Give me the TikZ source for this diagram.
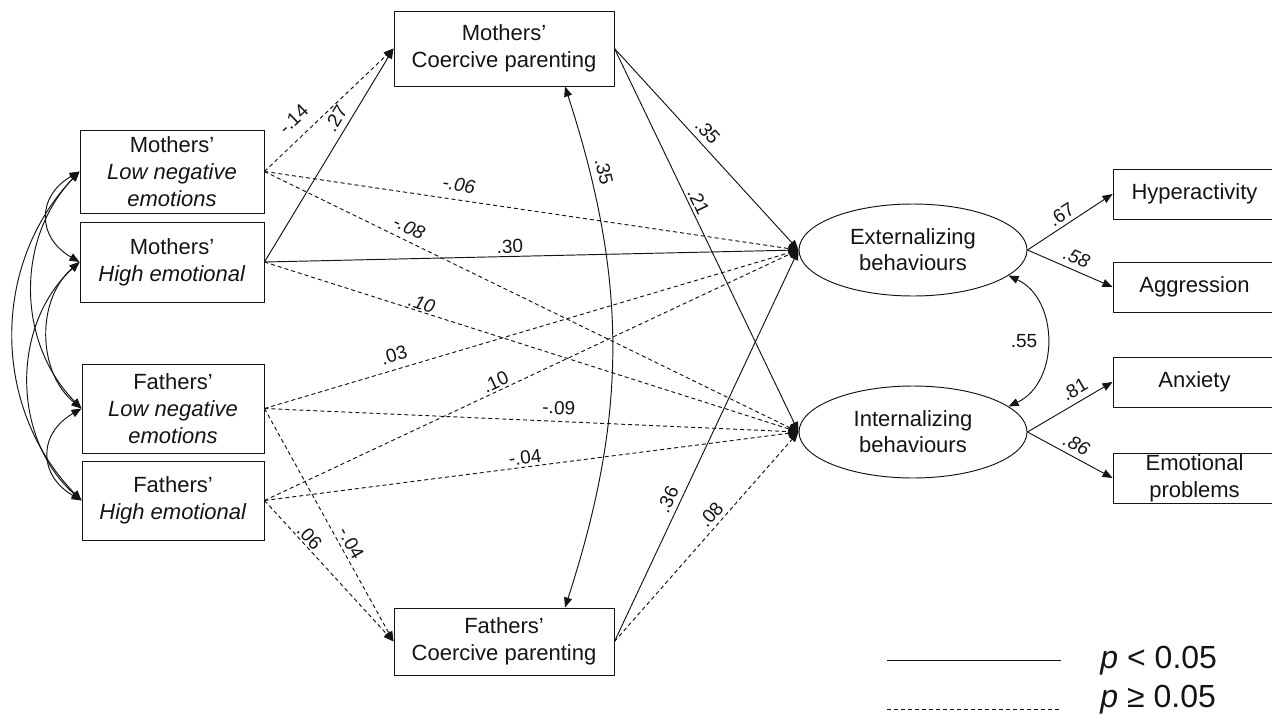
\documentclass[tikz,border=0pt]{standalone}
\usepackage{fontspec}
\setmainfont{Liberation Sans}
\usetikzlibrary{arrows.meta,shapes.geometric}

\tikzset{
	semtip/.tip={Triangle[length=10pt,width=8pt]},
	var/.style={draw, rectangle, align=center, inner sep=0pt, font=\fontsize{22}{27}\selectfont},
	latent/.style={draw, ellipse, align=center, inner sep=0pt, minimum width=228pt, minimum height=92pt, font=\fontsize{22}{26}\selectfont},
	sig/.style={-semtip},
	nsig/.style={sig, dash pattern=on 4pt off 3pt},
	cov/.style={semtip-semtip},
	num/.style={font=\fontsize{19}{21}\selectfont, inner sep=1pt},
	coef/.style={num, sloped, above=#1},
	coef/.default=2pt,
	icoef/.style={coef=#1, font=\fontsize{19}{21}\selectfont\itshape},
	icoef/.default=2pt,
	legend/.style={font=\fontsize{32}{38}\selectfont, anchor=west, inner sep=0pt}
}

\begin{document}
\begin{tikzpicture}[x=1pt, y=1pt, line width=0.95pt, color=black!92]
	\useasboundingbox (0,0) rectangle (1272,-720);

	% parents' emotions
	\node[var, minimum width=184pt, minimum height=83pt] (mlow) at (172,-171.5) {Mothers'\\\textit{Low negative}\\\textit{emotions}};
	\node[var, minimum width=184pt, minimum height=80pt] (mhigh) at (172,-262) {Mothers'\\\textit{High emotional}};
	\node[var, minimum width=182pt, minimum height=89pt] (flow) at (173,-408.5) {Fathers'\\\textit{Low negative}\\\textit{emotions}};
	\node[var, minimum width=182pt, minimum height=79pt] (fhigh) at (173,-500.5) {Fathers'\\\textit{High emotional}};

	% parenting
	\node[var, minimum width=220pt, minimum height=75pt] (mcoer) at (504,-48.5) {Mothers'\\Coercive parenting};
	\node[var, minimum width=220pt, minimum height=67pt] (fcoer) at (504,-641.5) {Fathers'\\Coercive parenting};

	% child outcomes
	\node[latent] (ext) at (913,-250) {Externalizing\\behaviours};
	\node[latent] (int) at (913,-432) {Internalizing\\behaviours};
	\node[var, minimum width=163pt, minimum height=50pt] (hyper) at (1194.5,-194) {Hyperactivity};
	\node[var, minimum width=163pt, minimum height=50pt] (aggr) at (1194.5,-287) {Aggression};
	\node[var, minimum width=163pt, minimum height=50pt] (anx) at (1194.5,-382) {Anxiety};
	\node[var, minimum width=163pt, minimum height=50pt] (emop) at (1194.5,-478) {Emotional\\problems};

	% covariances on the left
	\draw[cov] (mlow.west) to[bend right=60, looseness=1.4] (mhigh.west);
	\draw[cov] (mlow.west) to[bend right=44] (flow.west);
	\draw[cov] (mlow.west) to[bend right=44] (fhigh.west);
	\draw[cov] (mhigh.west) to[bend right=50] (flow.west);
	\draw[cov] (mhigh.west) to[bend right=48] (fhigh.west);
	\draw[cov] (flow.west) to[bend right=60, looseness=1.4] (fhigh.west);

	% emotions -> parenting
	\draw[nsig] (mlow.east) -- node[coef=10pt, pos=0.32]{-.14} (mcoer.west);
	\draw[sig] (mhigh.east) -- node[coef=5pt, pos=0.64]{.27} (mcoer.west);
	\draw[nsig] (flow.east) -- node[coef=2.5pt, pos=0.6]{-.04} (fcoer.west);
	\draw[nsig] (fhigh.east) -- node[coef=0.5pt, pos=0.3]{.06} (fcoer.west);

	% emotions -> child
	\draw[nsig] (mlow.east) -- node[icoef=7pt, pos=0.36]{-.06} (ext.west);
	\draw[nsig] (mlow.east) -- node[icoef=5pt, pos=0.26]{-.08} (int.west);
	\draw[sig] (mhigh.east) -- node[coef=2pt, pos=0.46]{.30} (ext.west);
	\draw[nsig] (mhigh.east) -- node[icoef=0pt, pos=0.29]{.10} (int.west);
	\draw[nsig] (flow.east) -- node[coef=6pt, pos=0.25]{.03} (ext.west);
	\draw[nsig] (flow.east) -- node[coef=5.5pt, pos=0.55]{-.09} (int.west);
	\draw[nsig] (fhigh.east) -- node[coef=1pt, pos=0.44]{.10} (ext.west);
	\draw[nsig] (fhigh.east) -- node[coef=1.5pt, pos=0.49]{-.04} (int.west);

	% parenting -> child
	\draw[sig] (mcoer.east) -- node[coef=4.5pt, pos=0.455]{.35} (ext.west);
	\draw[sig] (mcoer.east) -- node[coef=1.5pt, pos=0.41]{.21} (int.west);
	\draw[sig] (fcoer.east) -- node[coef=4pt, pos=0.35]{.36} (ext.west);
	\draw[nsig] (fcoer.east) -- node[coef=3pt, pos=0.57]{.08} (int.west);
	\draw[cov] ([xshift=61pt]mcoer.south) to[bend left=18] node[coef=6pt, pos=0.16]{.35} ([xshift=61pt]fcoer.north);

	% measurement part
	\draw[cov] (ext.-15) to[bend left=65, looseness=1.1] node[num, left=8pt]{.55} (int.15);
	\draw[sig] (ext.east) -- node[coef=3pt, pos=0.47]{.67} (hyper.west);
	\draw[sig] (ext.east) -- node[icoef=4.5pt, pos=0.52]{.58} (aggr.west);
	\draw[sig] (int.east) -- node[coef=4.5pt, pos=0.63]{.81} (anx.west);
	\draw[sig] (int.east) -- node[icoef=4pt, pos=0.51]{.86} (emop.west);

	% legend
	\coordinate (sa) at (887,-660);
	\coordinate (sb) at (1061,-660);
	\coordinate (na) at (887,-709);
	\coordinate (nb) at (1061,-709);
	\draw (sa) -- (sb);
	\draw[dash pattern=on 4pt off 3pt] (na) -- (nb);
	\node[legend] (lsig) at (1100,-661) {\textit{p} < 0.05};
	\node[legend] (lnsig) at (1100,-700) {\textit{p} ≥ 0.05};
\end{tikzpicture}
\end{document}
